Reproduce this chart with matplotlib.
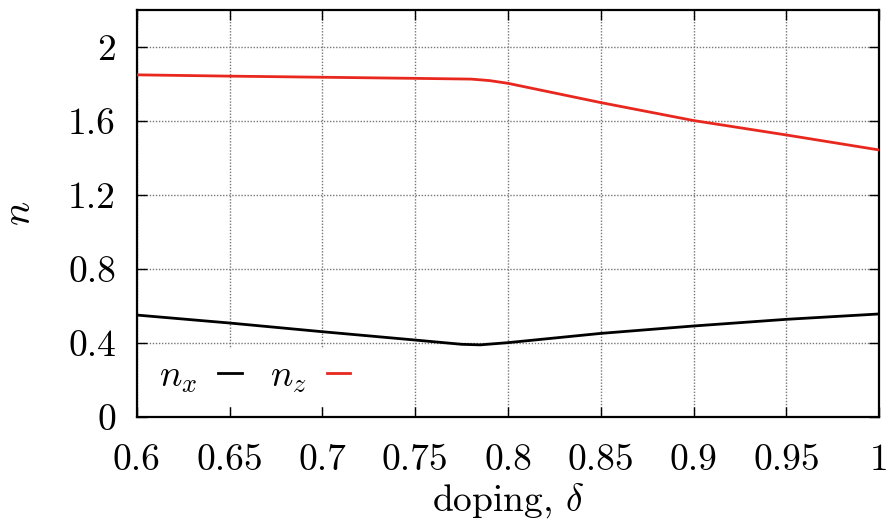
import matplotlib
matplotlib.use("Agg")
import matplotlib.pyplot as plt

# data
doping_x = [0.6, 0.65, 0.7, 0.75, 0.775, 0.785, 0.8, 0.85, 0.9, 0.95, 1.0]
n_x = [0.551, 0.508, 0.461, 0.416, 0.393, 0.390, 0.402, 0.452, 0.492, 0.528, 0.557]

doping_z = [0.6, 0.65, 0.7, 0.75, 0.78, 0.79, 0.8, 0.85, 0.9, 0.95, 1.0]
n_z = [1.849, 1.842, 1.836, 1.830, 1.826, 1.818, 1.803, 1.699, 1.602, 1.524, 1.443]

xticks = [0.6, 0.65, 0.7, 0.75, 0.8, 0.85, 0.9, 0.95, 1.0]
xtick_labels = ["0.6", "0.65", "0.7", "0.75", "0.8", "0.85", "0.9", "0.95", "1"]
yticks = [0, 0.4, 0.8, 1.2, 1.6, 2.0]
ytick_labels = ["0", "0.4", "0.8", "1.2", "1.6", "2"]

plt.rcParams["mathtext.fontset"] = "cm"
plt.rcParams["font.family"] = ["cmr10", "DejaVu Serif"]
plt.rcParams["axes.unicode_minus"] = False

fig = plt.figure(figsize=(8.89, 5.2), dpi=100)
ax = fig.add_axes([0.154, 0.198, 0.835, 0.783])

ax.plot(doping_x, n_x, color="black", lw=2.0, label="$n_x$", zorder=3)
ax.plot(doping_z, n_z, color="#e8281e", lw=2.0, label="$n_z$", zorder=3)

ax.set_xlim(0.6, 1.0)
ax.set_ylim(0, 2.2)
ax.set_xticks(xticks)
ax.set_xticklabels(xtick_labels)
ax.set_yticks(yticks)
ax.set_yticklabels(ytick_labels)
ax.tick_params(direction="in", length=7, width=1.0, top=True, right=True,
               labelsize=27)
ax.tick_params(axis="x", pad=19)
ax.tick_params(axis="y", pad=15)
ax.grid(True, color="#777777", linestyle=(0, (1, 1.2)), linewidth=1.0, zorder=1)
ax.set_axisbelow(True)
for s in ax.spines.values():
    s.set_linewidth(1.6)

ax.set_xlabel(r"doping, $\delta$", fontsize=27, labelpad=3)
ax.set_ylabel(r"$n$", fontsize=29, labelpad=22)

leg = ax.legend(loc="lower left", ncol=2, markerfirst=False, fontsize=27,
                frameon=True, framealpha=1, facecolor="white", edgecolor="none",
                handlelength=0.62, handletextpad=0.55, columnspacing=0.75,
                borderaxespad=0.3, borderpad=0.3, fancybox=False)
leg.set_zorder(5)

fig.savefig("out.png", dpi=100)
